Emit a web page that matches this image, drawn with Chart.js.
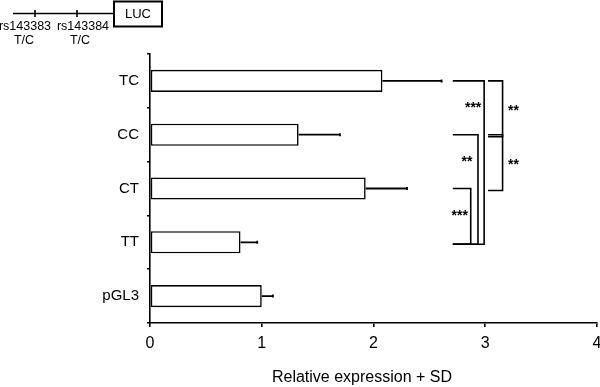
<!DOCTYPE html>
<html>
<head>
<meta charset="utf-8">
<script src="https://cdn.jsdelivr.net/npm/chart.js@4"></script>
<style>
  html, body { margin: 0; padding: 0; background: #fff; }
  #wrap { width: 600px; height: 387px; position: relative; }
</style>
</head>
<body>
<div id="wrap"><canvas id="grafico"></canvas></div>
<script>
// dados
const categorias = ['TC', 'CC', 'CT', 'TT', 'pGL3'];
const medias = [2.08, 1.33, 1.93, 0.81, 1.00];
const desvios = [0.53, 0.37, 0.37, 0.15, 0.10];
const ticksX = [0, 1, 2, 3, 4];
const comparacoes = [
    { de: 'TC', ate: 'TT', sig: '***' },
    { de: 'CC', ate: 'TT', sig: '**' },
    { de: 'CT', ate: 'TT', sig: '***' },
    { de: 'TC', ate: 'CC', sig: '**' },
    { de: 'CC', ate: 'CT', sig: '**' }
];
const tituloX = 'Relative expression + SD';
const snps = ['rs143383', 'rs143384'];
const alelos = ['T/C', 'T/C'];
const gene = 'LUC';

const FONTE = '"Liberation Sans", Arial, Helvetica, sans-serif';

// faixas dos colchetes (em unidades do eixo x), uma por comparacao
const faixas = [
    { x0: 2.71, x1: 2.99, lado: 'esq' },
    { x0: 2.71, x1: 2.935, lado: 'esq' },
    { x0: 2.71, x1: 2.87, lado: 'esq' },
    { x0: 3.025, x1: 3.155, lado: 'dir' },
    { x0: 3.025, x1: 3.155, lado: 'dir' }
];

const extras = {
    id: 'extras',
    afterDatasetsDraw(chart) {
        const ctx = chart.ctx;
        const x = chart.scales.x, y = chart.scales.y;
        ctx.save();
        ctx.strokeStyle = '#000';
        ctx.lineWidth = 1.8;
        medias.forEach((m, i) => {
            const yc = y.getPixelForValue(i);
            const x0 = x.getPixelForValue(m);
            const x1 = x.getPixelForValue(m + desvios[i]);
            ctx.beginPath();
            ctx.moveTo(x0, yc);
            ctx.lineTo(x1, yc);
            ctx.moveTo(x1, yc - 1.5);
            ctx.lineTo(x1, yc + 1.5);
            ctx.stroke();
        });
        ctx.restore();
    },
    afterDraw(chart) {
        const ctx = chart.ctx;
        const x = chart.scales.x, y = chart.scales.y;
        ctx.save();
        ctx.strokeStyle = '#000';
        ctx.fillStyle = '#000';
        ctx.lineWidth = 1.6;

        // colchetes de significancia
        comparacoes.forEach((c, k) => {
            const f = faixas[k];
            const ya = y.getPixelForValue(categorias.indexOf(c.de));
            const yb = y.getPixelForValue(categorias.indexOf(c.ate)) + 2;
            const xa = x.getPixelForValue(f.x0);
            const xb = x.getPixelForValue(f.x1);
            ctx.beginPath();
            ctx.moveTo(xa, ya);
            ctx.lineTo(xb, ya);
            ctx.lineTo(xb, yb);
            ctx.lineTo(xa, yb);
            ctx.stroke();
            ctx.font = 'bold 14px ' + FONTE;
            ctx.textBaseline = 'alphabetic';
            ctx.textAlign = 'center';
            if (f.lado === 'esq') {
                ctx.fillText(c.sig, xb - 11, ya + 31);
            } else {
                ctx.fillText(c.sig, xb + 11, (ya + yb) / 2 + 6);
            }
        });

        // titulo do eixo x
        ctx.font = '16px ' + FONTE;
        ctx.textAlign = 'center';
        ctx.textBaseline = 'middle';
        ctx.fillText(tituloX, 362, 378);

        // esquema do promotor
        ctx.lineWidth = 1.6;
        ctx.beginPath();
        ctx.moveTo(13, 13.5);
        ctx.lineTo(113, 13.5);
        ctx.moveTo(35, 10);
        ctx.lineTo(35, 17);
        ctx.moveTo(77, 10);
        ctx.lineTo(77, 17);
        ctx.stroke();
        ctx.lineWidth = 2;
        ctx.strokeRect(114, 1.5, 48, 25);
        ctx.font = '13px ' + FONTE;
        ctx.fillText(gene, 138, 14);
        ctx.font = '12.5px ' + FONTE;
        ctx.fillText(snps[0], 25, 27);
        ctx.fillText(snps[1], 83, 27);
        ctx.fillText(alelos[0], 24, 41);
        ctx.fillText(alelos[1], 80, 41);
        ctx.restore();
    }
};

const ctx = document.getElementById('grafico').getContext('2d');
new Chart(ctx, {
    type: 'bar',
    data: {
        labels: categorias,
        datasets: [{
            data: medias,
            backgroundColor: '#fff',
            borderColor: '#000',
            borderWidth: 1.6,
            borderSkipped: false,
            categoryPercentage: 1,
            barPercentage: 0.41
        }]
    },
    options: {
        indexAxis: 'y',
        responsive: true,
        maintainAspectRatio: false,
        animation: false,
        events: [],
        layout: { padding: { left: 90, top: 54, right: 3, bottom: 0 } },
        plugins: { legend: { display: false }, tooltip: { enabled: false } },
        scales: {
            x: {
                min: 0,
                max: 4,
                afterFit: (s) => { s.height = 64; s.paddingRight = 0; s.paddingLeft = 0; },
                afterBuildTicks: (s) => { s.ticks = ticksX.map(v => ({ value: v })); },
                border: { color: '#000', width: 1.6 },
                grid: { drawOnChartArea: false, color: '#000', lineWidth: 1.6, tickLength: 4 },
                ticks: { color: '#000', padding: 7, font: { size: 16, family: FONTE } }
            },
            y: {
                afterFit: (s) => { s.width = 60; },
                border: { color: '#000', width: 1.6 },
                grid: { drawOnChartArea: false, color: '#000', lineWidth: 1.6, tickLength: 3, offset: true },
                ticks: { color: '#000', padding: 8, font: { size: 15, family: FONTE } }
            }
        }
    },
    plugins: [extras]
});
</script>
</body>
</html>
